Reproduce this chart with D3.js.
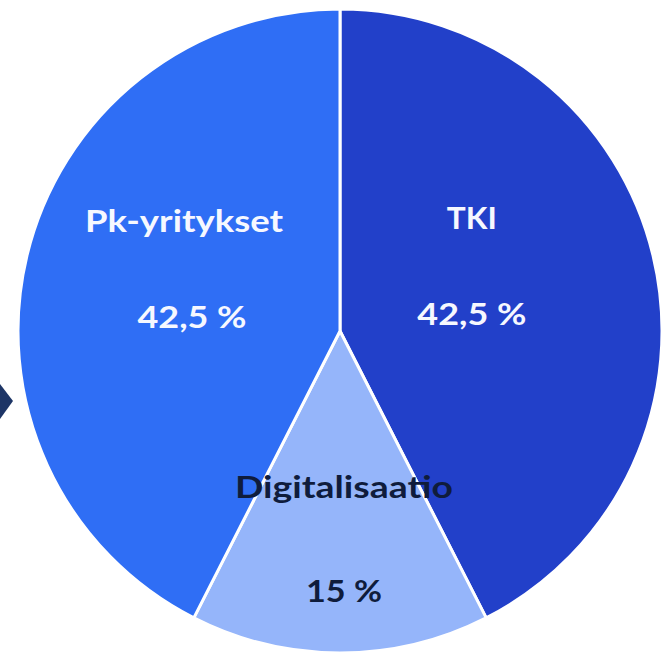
<!DOCTYPE html>
<html>
<head>
<meta charset="utf-8">
<script src="https://cdn.jsdelivr.net/npm/d3@7"></script>
<style>
	html, body { margin: 0; padding: 0; background: #ffffff; }
	svg { display: block; }
</style>
</head>
<body>
<svg id="chart"></svg>
<script>
// Slice data, clockwise from 12 o'clock
const categories = ["TKI", "Digitalisaatio", "Pk-yritykset"];
const shares = [42.5, 15, 42.5];
const shareLabels = ["42,5 %", "15 %", "42,5 %"];
const sliceColors = ["#2240c9", "#95b5fa", "#2f6ef5"];
const textColors = ["#f6f8ff", "#0f1c3c", "#f6f8ff"];

const width = 661;
const height = 655;
const cx = 340;
const cy = 331;
const radius = 322;

const data = categories.map((c, i) => ({
	category: c,
	value: shares[i],
	label: shareLabels[i],
	color: sliceColors[i],
	text: textColors[i]
}));

const svg = d3.select("#chart")
	.attr("width", width)
	.attr("height", height);

// dark chevron peeking in from the left edge
svg.append("path")
	.attr("d", "M0,384 L13,401 L0,419 Z")
	.attr("fill", "#1d3566");

const g = svg.append("g")
	.attr("transform", `translate(${cx},${cy})`);

const pie = d3.pie()
	.sort(null)
	.value((d) => d.value);

const arc = d3.arc()
	.innerRadius(0)
	.outerRadius(radius);

const arcs = pie(data);

g.selectAll("path.slice")
	.data(arcs)
	.join("path")
	.attr("class", "slice")
	.attr("d", arc)
	.attr("fill", (d) => d.data.color)
	.attr("stroke", "#ffffff")
	.attr("stroke-width", 3)
	.attr("stroke-linejoin", "round");

// label anchor: radius (fraction of r) and small angle tweak per slice
const labelRadius = [0.458, 0.643, 0.511];
const labelTilt = [-0.229, -0.019, 0.157];
const nameWidth = [50, 218, 198];
const valueWidth = [109, 76, 109];
const nameDy = [-36, -40, -36];
const valueDy = [60, 64, 60];

function labelPos(d, i) {
	const a = (d.startAngle + d.endAngle) / 2 + labelTilt[i];
	const r = radius * labelRadius[i];
	return [Math.sin(a) * r, -Math.cos(a) * r];
}

const labels = g.selectAll("g.label")
	.data(arcs)
	.join("g")
	.attr("class", "label")
	.attr("transform", (d, i) => {
		const [x, y] = labelPos(d, i);
		return `translate(${x},${y})`;
	});

labels.append("text")
	.attr("text-anchor", "middle")
	.attr("x", (d, i) => (i === 2 ? -4 : 0))
	.attr("y", (d, i) => nameDy[i])
	.attr("textLength", (d, i) => nameWidth[i])
	.attr("lengthAdjust", "spacingAndGlyphs")
	.style("font-family", "Lato, 'Open Sans', sans-serif")
	.style("font-weight", "bold")
	.style("font-size", "31px")
	.style("fill", (d) => d.data.text)
	.text((d) => d.data.category);

labels.append("text")
	.attr("text-anchor", "middle")
	.attr("x", (d, i) => (i === 2 ? 4 : 0))
	.attr("y", (d, i) => valueDy[i])
	.attr("textLength", (d, i) => valueWidth[i])
	.attr("lengthAdjust", "spacingAndGlyphs")
	.style("font-family", "Lato, 'Open Sans', sans-serif")
	.style("font-weight", "bold")
	.style("font-size", "31px")
	.style("fill", (d) => d.data.text)
	.text((d) => d.data.label);
</script>
</body>
</html>
